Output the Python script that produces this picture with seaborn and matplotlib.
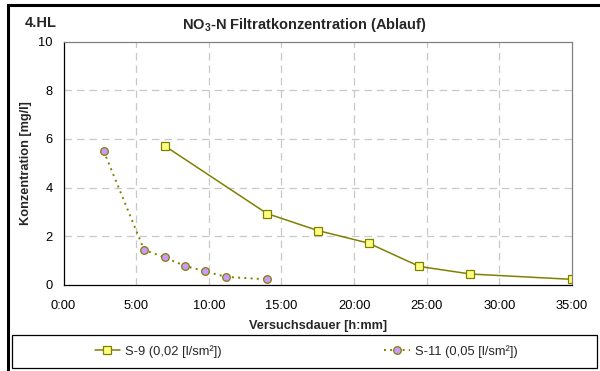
import matplotlib
matplotlib.use("Agg")
import matplotlib.pyplot as plt
from matplotlib.patches import Rectangle
import seaborn as sns

# S-9 (0,02 l/sm²)
s9_hours = [7.0, 14.0, 17.5, 21.0, 24.5, 28.0, 35.0]
s9_conc = [5.7, 2.93, 2.23, 1.71, 0.75, 0.44, 0.22]
# S-11 (0,05 l/sm²)
s11_hours = [2.77, 5.55, 6.98, 8.38, 9.76, 11.2, 14.0]
s11_conc = [5.5, 1.43, 1.12, 0.77, 0.55, 0.32, 0.22]

x_ticks = [0, 5, 10, 15, 20, 25, 30, 35]
x_ticklabels = ["0:00", "5:00", "10:00", "15:00", "20:00", "25:00", "30:00", "35:00"]
y_ticks = [0, 2, 4, 6, 8, 10]

olive = "#808000"

sns.set_style("white")
plt.rcParams["font.family"] = ["Liberation Sans", "DejaVu Sans"]
plt.rcParams["mathtext.fontset"] = "custom"
plt.rcParams["mathtext.rm"] = "Liberation Sans"
plt.rcParams["mathtext.bf"] = "Liberation Sans:bold"

fig = plt.figure(figsize=(6, 3.71), dpi=100)
ax = fig.add_axes([63.5 / 600, 1 - 284.7 / 371, (572 - 63.5) / 600, (284.7 - 41.7) / 371])

sns.lineplot(x=s9_hours, y=s9_conc, ax=ax, sort=False, color=olive, lw=1.1,
             marker="s", markersize=5.5, markerfacecolor="#ffff80",
             markeredgecolor=olive, markeredgewidth=0.9, label="S-9 (0,02 [l/sm²])")
sns.lineplot(x=s11_hours, y=s11_conc, ax=ax, sort=False, color=olive, lw=1.4,
             linestyle=(0, (1, 2.2)), marker="o", markersize=5.5,
             markerfacecolor="#cc99ff", markeredgecolor=olive, markeredgewidth=0.9,
             label="S-11 (0,05 [l/sm²])")

ax.set_xlim(0, 35)
ax.set_ylim(0, 10)
ax.set_xticks(x_ticks)
ax.set_xticklabels(x_ticklabels)
ax.set_yticks(y_ticks)
ax.tick_params(axis="both", direction="out", length=3.6, width=0.8, labelsize=9.3,
               colors="black", pad=4)
ax.tick_params(axis="x", pad=7.5)

for v in x_ticks[1:-1]:
    ax.axvline(v, color="#c8c8c8", lw=0.9, ls=(0, (6, 4)), zorder=0)
for v in y_ticks[1:-1]:
    ax.axhline(v, color="#c8c8c8", lw=0.9, ls=(0, (6, 4)), zorder=0)

for side in ["left", "bottom"]:
    ax.spines[side].set_color("black")
    ax.spines[side].set_linewidth(0.9)
for side in ["top", "right"]:
    ax.spines[side].set_color("#808080")
    ax.spines[side].set_linewidth(0.9)

ax.set_xlabel("Versuchsdauer [h:mm]", fontsize=9.2, fontweight="bold")
ax.set_ylabel("Konzentration [mg/l]", fontsize=9.2, fontweight="bold")
ax.xaxis.set_label_coords(0.5, -(320 - 284.7) / 243)
ax.yaxis.set_label_coords(-(63.5 - 32) / 508.5, 0.5)

fig.text(304.5 / 600, 1 - 25 / 371, r"NO$_\mathbf{3}$-N Filtratkonzentration (Ablauf)",
         ha="center", va="center", fontsize=10.5, fontweight="bold")
fig.text(25 / 600, 1 - 23 / 371, "4.HL", ha="left", va="center",
         fontsize=10.5, fontweight="bold")

handles, labels = ax.get_legend_handles_labels()
ax.get_legend().remove()
fig.legend(handles, labels, loc="center", ncol=2, frameon=False, fontsize=9.3,
           bbox_to_anchor=(306 / 600, 1 - 351.5 / 371), columnspacing=12.6,
           handlelength=1.95, handletextpad=0.4)

fig.patches.append(Rectangle((12 / 600, 1 - 368 / 371), 585 / 600, 33 / 371,
                             transform=fig.transFigure, fill=False,
                             edgecolor="black", lw=0.9))
fig.patches.append(Rectangle((8 / 600, -0.05), 1.1, 1 - 5 / 371 + 0.05,
                             transform=fig.transFigure, fill=False,
                             edgecolor="black", lw=2.2))

fig.savefig("out.png", dpi=100)
